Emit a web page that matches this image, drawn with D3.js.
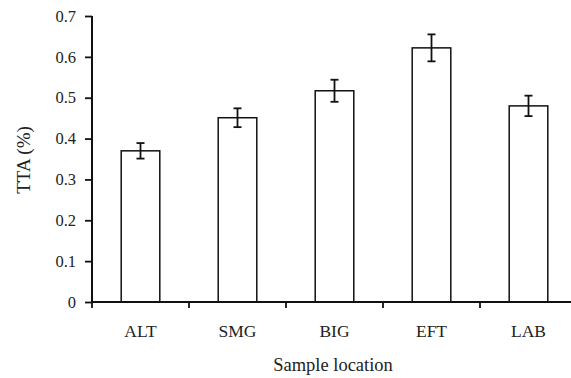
<!DOCTYPE html>
<html><head><meta charset="utf-8">
<script src="https://cdn.jsdelivr.net/npm/d3@7"></script>
<style>body{margin:0;background:#fff}svg{display:block}text{font-family:"Liberation Serif","Times New Roman",serif;fill:#222}</style>
</head><body>
<script>
const categories = ["ALT","SMG","BIG","EFT","LAB"];
const values = [0.370, 0.451, 0.517, 0.622, 0.480];
const errors = [0.019, 0.023, 0.027, 0.033, 0.025];
const yTicks = [0,0.1,0.2,0.3,0.4,0.5,0.6,0.7];

const W=571,H=378;
const svg=d3.select("body").append("svg").attr("width",W).attr("height",H);
const x=d3.scaleBand().domain(categories).range([92,577]);
const y=d3.scaleLinear().domain([0,0.7]).range([302,16]);

// bars
svg.selectAll("rect.bar").data(categories).enter().append("rect")
  .attr("x",d=>x(d)+x.bandwidth()/2-19.3).attr("width",38.6)
  .attr("y",(d,i)=>y(values[i])).attr("height",(d,i)=>y(0)-y(values[i]))
  .attr("fill","#fff").attr("stroke","#111").attr("stroke-width",1.5);

// error bars
const eg=svg.append("g").attr("stroke","#111").attr("stroke-width",1.8);
categories.forEach((c,i)=>{
  const cx=x(c)+x.bandwidth()/2;
  eg.append("line").attr("x1",cx).attr("x2",cx).attr("y1",y(values[i]+errors[i])).attr("y2",y(values[i]-errors[i]));
  eg.append("line").attr("x1",cx-4).attr("x2",cx+4).attr("y1",y(values[i]+errors[i])).attr("y2",y(values[i]+errors[i]));
  eg.append("line").attr("x1",cx-4).attr("x2",cx+4).attr("y1",y(values[i]-errors[i])).attr("y2",y(values[i]-errors[i]));
});

// y axis
const ya=svg.append("g").attr("transform","translate(92,0)")
  .call(d3.axisLeft(y).tickValues(yTicks).tickFormat(d=>d===0?"0":d3.format(".1f")(d)).tickSize(7).tickPadding(9));
// x axis
const xa=svg.append("g").attr("transform","translate(0,302)")
  .call(d3.axisBottom(x).tickSize(0).tickPadding(20));
// x ticks at band boundaries
svg.append("g").selectAll("line").data(categories).enter().append("line")
  .attr("x1",d=>x(d)).attr("x2",d=>x(d)).attr("y1",302).attr("y2",308)
  .attr("stroke","#111").attr("stroke-width",1.8);
[ya,xa].forEach(a=>{
  a.select(".domain").attr("stroke","#111").attr("stroke-width",2);
  a.selectAll(".tick line").attr("stroke","#111").attr("stroke-width",1.8);
  a.selectAll("text").style("font-family","'Liberation Serif',serif").attr("fill","#222");
});
ya.selectAll("text").style("font-size","16.5px");
xa.selectAll("text").style("font-size","17.5px").attr("dy",null).attr("y",null)
  .attr("transform","translate(0,35)");
ya.select(".domain").attr("d","M0,16V302");
xa.select(".domain").attr("d","M92,0H577");

svg.append("text").attr("x",333).attr("y",370.5).attr("text-anchor","middle").style("font-size","18.5px").text("Sample location");
svg.append("text").attr("transform","translate(30,160) rotate(-90)").attr("text-anchor","middle").style("font-size","19px").text("TTA (%)");
</script>
</body></html>
